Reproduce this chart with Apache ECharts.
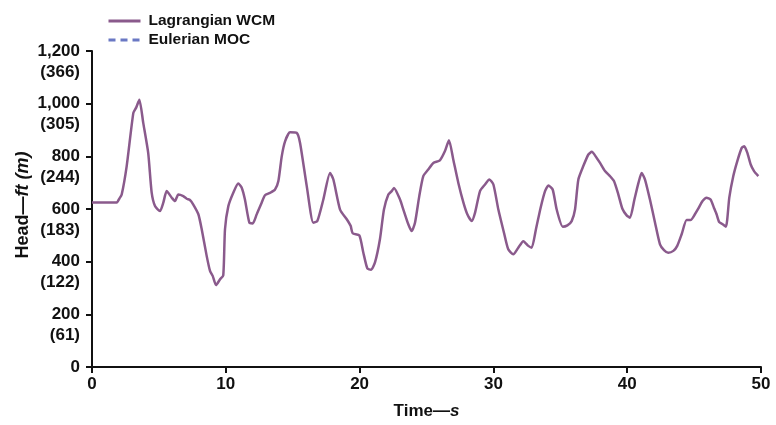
<!DOCTYPE html>
<html><head><meta charset="utf-8">
<script src="https://cdn.jsdelivr.net/npm/echarts@6/dist/echarts.min.js"></script>
<style>html,body{margin:0;padding:0;background:#fff;overflow:hidden}#c{width:776px;height:425px}</style>
</head><body><div id="c"></div>
<script>
const timeS = [0,1.85,2.05,2.22,2.59,3.09,3.3,3.54,3.83,4.2,4.46,4.71,5.08,5.33,5.58,5.96,6.2,6.45,6.82,7.08,7.32,7.57,7.95,8.2,8.57,8.82,9.02,9.27,9.57,9.81,9.94,10.19,10.56,10.93,11.19,11.43,11.76,12.01,12.31,12.68,12.93,13.3,13.68,13.93,14.18,14.43,14.8,15.3,15.55,16.05,16.54,16.84,17.29,17.79,18.04,18.54,19.04,19.33,19.48,19.98,20.28,20.58,20.85,21.15,21.52,21.82,22.15,22.4,22.57,23.02,23.27,23.64,23.89,24.14,24.46,24.76,25.13,25.51,26.0,26.38,26.68,27.0,27.38,27.76,28.05,28.38,28.63,29.0,29.37,29.7,30.0,30.37,30.79,31.11,31.49,31.86,32.24,32.61,32.86,33.18,33.53,33.86,34.11,34.43,34.73,35.18,35.53,35.85,36.1,36.35,36.72,37.1,37.35,37.72,37.97,38.34,38.71,39.01,39.34,39.64,39.96,40.21,40.54,40.84,41.08,41.33,41.7,42.08,42.45,42.75,43.07,43.45,43.74,44.07,44.44,44.74,45.06,45.31,45.63,45.93,46.23,46.48,46.68,46.88,47.13,47.38,47.63,47.93,48.23,48.56,48.75,48.98,49.23,49.48,49.8];
const lagrangianHeadFt = [625,625,640,655,762,965,985,1015,927,813,662,611,592,624,668,643,630,655,649,639,634,617,580,523,422,365,346,311,333,348,523,611,662,697,681,636,548,545,580,624,652,661,674,706,800,857,891,889,851,687,548,554,636,737,712,598,561,536,508,500,434,374,369,397,485,598,655,668,680,636,598,542,516,548,649,725,750,775,785,820,861,788,699,624,580,554,586,668,693,712,693,598,510,447,428,453,478,460,453,523,605,668,689,674,598,533,538,554,598,712,763,807,817,794,775,744,725,706,655,601,576,567,636,699,737,712,636,548,466,444,434,441,460,504,558,558,580,601,630,643,636,605,580,550,542,533,643,725,782,832,838,813,769,744,725];
const eulerianHeadFt = [];
const yTicksFt = [0,200,400,600,800,1000,1200];
const yTicksM = ['', '(61)', '(122)', '(183)', '(244)', '(305)', '(366)'];
const xTicks = [0,10,20,30,40,50];

const FONT = "'Liberation Sans',Arial,Helvetica,sans-serif";
const lagData = timeS.map((t,i)=>[t, lagrangianHeadFt[i]]);
const eulData = eulerianHeadFt.map((h,i)=>[timeS[i], h]);

const labelBase = {fontFamily:FONT,fontWeight:'bold',fontSize:17,color:'#111'};

const chart = echarts.init(document.getElementById('c'), null, {renderer:'canvas', width:776, height:425});
chart.setOption({
  animation:false,
  backgroundColor:'#fff',
  grid:{left:92,width:669,top:51,height:317,containLabel:false},
  legend:{
    left:107, top:13, padding:0, orient:'vertical', itemWidth:32, itemHeight:10, itemGap:3,
    itemStyle:{opacity:0},
    lineStyle:{width:3},
    textStyle:{fontFamily:FONT,fontWeight:'bold',fontSize:15.5,color:'#111',padding:[0,0,0,3]},
    data:['Lagrangian WCM','Eulerian MOC']
  },
  xAxis:{
    type:'value', min:0, max:50, interval:10,
    name:'Time—{i|s}', nameLocation:'middle', nameGap:36,
    nameTextStyle:{...labelBase,
      rich:{i:{...labelBase,fontStyle:'italic'}}},
    axisLine:{lineStyle:{color:'#111',width:2}},
    axisTick:{show:true,length:6,lineStyle:{color:'#111',width:2}},
    axisLabel:{...labelBase,margin:9,showMaxLabel:true,showMinLabel:true},
    splitLine:{show:false}
  },
  yAxis:[{
    type:'value', min:0, max:1200, interval:200, position:'left',
    name:'Head—{i|ft (m)}', nameLocation:'middle', nameGap:60, nameRotate:90, nameMoveOverlap:false,
    nameTextStyle:{...labelBase,fontSize:18,padding:[0,0,0,8],
      rich:{i:{...labelBase,fontSize:18,fontStyle:'italic'}}},
    axisLine:{show:true,onZero:false,lineStyle:{color:'#111',width:2}},
    axisTick:{show:true,length:6,lineStyle:{color:'#111',width:2}},
    axisLabel:{...labelBase,margin:12,align:'right',showMaxLabel:true,showMinLabel:true,
      formatter:function(v){ return v.toLocaleString('en-US'); }},
    splitLine:{show:false}
  },{
    type:'value', min:0, max:1200, interval:200, position:'left', offset:0,
    axisLine:{show:false}, axisTick:{show:false}, splitLine:{show:false},
    axisLabel:{...labelBase,margin:12,align:'right',verticalAlign:'top',lineHeight:20,padding:[11,0,0,0],
      showMaxLabel:true,showMinLabel:true,
      formatter:function(v){ const i = yTicksFt.indexOf(v); return i>=0 ? yTicksM[i] : ''; }}
  }],
  series:[
    {name:'Lagrangian WCM', type:'line', data:lagData, symbol:'none', smooth:0.2, yAxisIndex:0,
     lineStyle:{color:'#8a5a8c',width:2.5}, itemStyle:{color:'#8a5a8c'}, z:3},
    {name:'Eulerian MOC', type:'line', data:eulData, symbol:'none', yAxisIndex:0,
     lineStyle:{color:'#6a78c4',width:2,type:[7,5]}, itemStyle:{color:'#6a78c4'}, z:2}
  ]
});
</script></body></html>
